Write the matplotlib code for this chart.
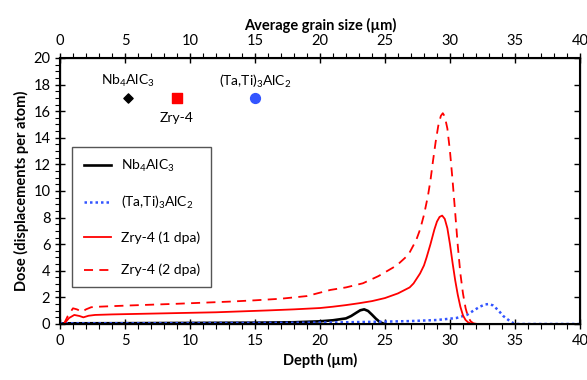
import matplotlib
matplotlib.use("Agg")
import matplotlib.pyplot as plt
from matplotlib.ticker import MultipleLocator

plt.rcParams['font.family'] = ['Lato', 'DejaVu Sans']
plt.rcParams['mathtext.fontset'] = 'custom'
plt.rcParams['mathtext.rm'] = 'Lato'
plt.rcParams['mathtext.it'] = 'Lato:italic'
plt.rcParams['mathtext.bf'] = 'Lato:bold'

# dose profiles vs depth (um)
zry1_depth = [0.3, 0.7, 1.1, 1.5, 1.8, 2.2, 2.7, 4, 6, 8, 10, 12, 14, 16, 18, 20, 21, 22, 23, 24,
              25, 26, 26.9, 27.2, 27.7, 28.0, 28.2, 28.5, 28.8, 29.0, 29.2, 29.4, 29.6, 29.8, 30.0,
              30.2, 30.4, 30.6, 30.8, 31.0, 31.2, 31.4, 31.6, 31.9, 35]
zry1_dose = [0, 0.45, 0.68, 0.6, 0.5, 0.62, 0.68, 0.72, 0.76, 0.8, 0.84, 0.88, 0.95, 1.02, 1.1, 1.2,
             1.3, 1.42, 1.56, 1.72, 1.95, 2.3, 2.75, 3.05, 3.8, 4.4, 5.0, 6.0, 7.1, 7.7, 8.05, 8.15,
             7.9, 7.2, 6.0, 4.6, 3.3, 2.2, 1.3, 0.65, 0.3, 0.12, 0.04, 0, 0]

zry2_depth = [0.3, 0.6, 1.0, 1.3, 1.7, 2.0, 2.4, 3, 5, 7, 9, 11, 13, 15, 17, 19, 20.8, 22, 23.3,
              24.5, 25.9, 26.8, 27.4, 27.7, 28.0, 28.3, 28.5, 28.7, 28.9, 29.1, 29.3, 29.45, 29.6,
              29.8, 30.0, 30.2, 30.4, 30.6, 30.8, 31.0, 31.2, 31.4, 31.6, 31.8, 32.1, 35]
zry2_dose = [0, 0.6, 1.18, 1.1, 0.92, 1.1, 1.26, 1.3, 1.38, 1.45, 1.52, 1.6, 1.68, 1.78, 1.9, 2.1,
             2.56, 2.75, 3.06, 3.6, 4.4, 5.2, 6.3, 7.1, 8.2, 9.6, 10.8, 12.3, 13.7, 14.9, 15.65,
             15.85, 15.6, 14.7, 13.0, 10.8, 8.4, 5.9, 3.8, 2.3, 1.2, 0.5, 0.2, 0.05, 0, 0]

nb_depth = [0, 5, 10, 15, 18, 20, 21, 22, 22.4, 22.8, 23.1, 23.4, 23.7, 24.0, 24.3, 24.6, 24.9, 25]
nb_dose = [0.05, 0.06, 0.08, 0.1, 0.13, 0.2, 0.28, 0.42, 0.6, 0.85, 1.03, 1.1, 0.98, 0.7, 0.4,
           0.15, 0.02, 0]

tati_depth = [0, 5, 10, 15, 20, 24.6, 27, 29, 30, 30.5, 31.3, 31.8, 32.3, 32.7, 33.0, 33.3, 33.7,
              34.1, 34.5, 34.9, 35.2, 40]
tati_dose = [0.05, 0.05, 0.06, 0.08, 0.1, 0.17, 0.22, 0.3, 0.4, 0.45, 0.68, 1.0, 1.3, 1.47, 1.5,
             1.4, 1.05, 0.6, 0.3, 0.05, 0, 0]

# average grain size of each material (top axis)
grain_size = [5.2, 9.0, 15.0]
grain_y = [17, 17, 17]
grain_names = ['Nb$_4$AlC$_3$', 'Zry-4', '(Ta,Ti)$_3$AlC$_2$']

fig = plt.figure(figsize=(5.87, 3.8), dpi=100)
ax = fig.add_axes([0.1022, 0.1474, 0.8858, 0.7])

ax.plot(nb_depth, nb_dose, color='black', lw=1.9, label='Nb$_4$AlC$_3$')
ax.plot(tati_depth, tati_dose, color='#3355ff', lw=1.8, ls=(0, (1, 1.2)),
        label='(Ta,Ti)$_3$AlC$_2$')
ax.plot(zry1_depth, zry1_dose, color='#ff0000', lw=1.3, label='Zry-4 (1 dpa)')
ax.plot(zry2_depth, zry2_dose, color='#ff0000', lw=1.3, ls=(0, (5, 3.5)), label='Zry-4 (2 dpa)')

ax.set_xlim(0, 40)
ax.set_ylim(0, 20)
ax.xaxis.set_major_locator(MultipleLocator(5))
ax.xaxis.set_minor_locator(MultipleLocator(1))
ax.yaxis.set_major_locator(MultipleLocator(2))
ax.yaxis.set_minor_locator(MultipleLocator(0.5))
ax.tick_params(which='major', direction='inout', length=7, width=1, labelsize=10.5)
ax.tick_params(which='minor', direction='out', length=3.5, width=0.8)
ax.set_xlabel('Depth (µm)', fontweight='bold', fontsize=10.5)
ax.set_ylabel('Dose (displacements per atom)', fontweight='bold', fontsize=10.5, labelpad=3)
for s in ax.spines.values():
    s.set_linewidth(1.5)

leg = ax.legend(loc='upper left', bbox_to_anchor=(0.024, 0.667), borderaxespad=0, fontsize=10,
                labelspacing=1.45, handlelength=2.0, borderpad=0.8, handletextpad=0.7,
                fancybox=False, edgecolor='#555555', framealpha=1)
leg.get_frame().set_linewidth(1.0)

# right side ticks
rt = ax.twinx()
rt.set_ylim(0, 20)
rt.yaxis.set_major_locator(MultipleLocator(2))
rt.set_yticklabels([])
rt.tick_params(direction='in', length=4, width=1)

top = ax.twiny()
top.set_xlim(0, 40)
top.xaxis.set_major_locator(MultipleLocator(5))
top.xaxis.set_minor_locator(MultipleLocator(1))
top.tick_params(which='major', direction='inout', length=7, width=1, labelsize=10.5)
top.tick_params(which='minor', direction='out', length=3.5, width=0.8)
top.set_xlabel('Average grain size (µm)', fontweight='bold', fontsize=10.5, labelpad=3)

top.scatter(grain_size[0], grain_y[0], marker='D', s=22, color='black', zorder=5)
top.scatter(grain_size[1], grain_y[1], marker='s', s=50, color='#ff0000', zorder=5)
top.scatter(grain_size[2], grain_y[2], marker='o', s=50, color='#3355ff', zorder=5)
top.text(grain_size[0], grain_y[0] + 1.25, grain_names[0], ha='center', va='center', fontsize=10)
top.text(grain_size[1], grain_y[1] - 1.5, grain_names[1], ha='center', va='center', fontsize=10)
top.text(grain_size[2], grain_y[2] + 1.25, grain_names[2], ha='center', va='center', fontsize=10)

fig.savefig('out.png', dpi=100)
